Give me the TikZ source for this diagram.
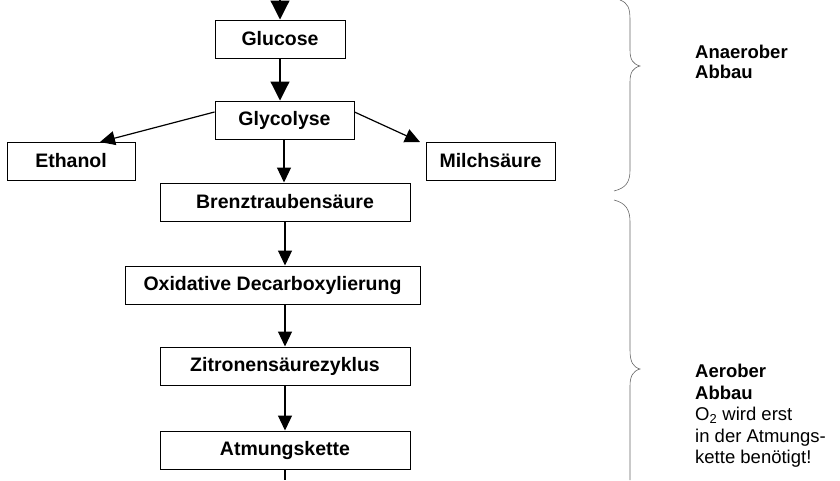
\documentclass[tikz,border=0pt]{standalone}
\usepackage{fontspec}
\setmainfont{Liberation Sans}
\usetikzlibrary{arrows.meta}
\begin{document}
\begin{tikzpicture}[x=1pt,y=-1pt,
 box/.style={draw,line width=1pt,minimum height=38pt,font=\bfseries\fontsize{19.5}{21}\selectfont,inner sep=0pt},
 big/.style={-{Triangle[width=19pt,length=19pt]},line width=1.2pt},
 small/.style={-{Triangle[width=14pt,length=15pt]},line width=1.2pt},
 brace/.style={draw=black!60,line width=0.6pt},
 lab/.style={anchor=north west,align=left,font=\fontsize{18.5}{21.5}\selectfont,inner sep=0pt}]
\useasboundingbox (0,0) rectangle (840,480);
\coordinate (top) at (280,0);
\coordinate (bot) at (285,480);
\node[box,minimum width=130pt] (glu) at (280,39) {Glucose};
\node[box,minimum width=139pt] (gly) at (284.5,120) {Glycolyse};
\node[box,minimum width=128pt] (eth) at (71,161) {Ethanol};
\node[box,minimum width=129pt] (mil) at (490.5,161) {Milchsäure};
\node[box,minimum width=250pt] (brt) at (285,202) {Brenztraubensäure};
\node[box,minimum width=295pt] (oxd) at (272.5,285) {Oxidative Decarboxylierung};
\node[box,minimum width=250pt] (zit) at (285,366) {Zitronensäurezyklus};
\node[box,minimum width=250pt] (atm) at (285,450) {Atmungskette};
\draw[big] (top) -- (glu.north);
\draw[big] (glu.south) -- (glu.south|-gly.north);
\draw[small] (gly.west|-0,112) -- (100,142);
\draw[small] (gly.east|-0,112) -- (420,142);
\draw[small] (gly.south-|284,0) -- (brt.north-|284,0);
\draw[small] (brt.south) -- (brt.south|-oxd.north);
\draw[small] (oxd.south-|285,0) -- (zit.north);
\draw[small] (zit.south) -- (atm.north);
\draw[line width=1.2pt] (atm.south) -- (bot);
\draw[brace] (620,0) .. controls (628,3) and (630,8) .. (630,20) -- (630,50)
  .. controls (630,60) and (633,64) .. (640,66)
  .. controls (633,68) and (630,72) .. (630,82) -- (630,170)
  .. controls (630,182) and (626,188) .. (614,191);
\draw[brace] (614,200) .. controls (626,203) and (630,210) .. (630,222) -- (630,350)
  .. controls (630,362) and (633,367) .. (640,369)
  .. controls (633,371) and (630,376) .. (630,386) -- (630,480);
\node[lab,font=\bfseries\fontsize{18.5}{19.5}\selectfont] (an) at (695,45) {Anaerober\\Abbau};
\node[lab] (ae) at (695,364) {\textbf{Aerober}\\\textbf{Abbau}\\O\textsubscript{2} wird erst\\in der Atmungs-\\kette benötigt!};
\end{tikzpicture}
\end{document}
